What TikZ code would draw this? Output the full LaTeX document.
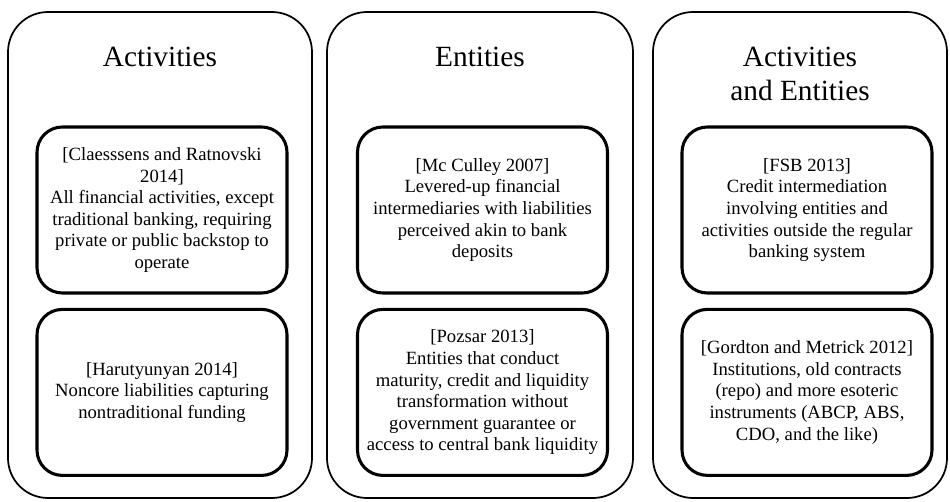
\documentclass[tikz,border=0pt]{standalone}
\usepackage{fontspec}
\setmainfont{Liberation Serif}
\usetikzlibrary{positioning}

\begin{document}
\begin{tikzpicture}[
  x=0.75pt, y=-0.75pt,
  node distance=10pt,
  column/.style={draw, rounded corners=30pt, line width=1.3pt, minimum height=364.5pt, inner sep=0pt},
  card/.style={draw, rounded corners=19pt, line width=2.3pt, align=center, minimum width=187.5pt, minimum height=124.5pt, inner sep=2pt, font=\fontsize{14}{16.2}\selectfont},
  heading/.style={anchor=north, align=center, font=\fontsize{22}{26}\selectfont}]
\useasboundingbox (0,0) rectangle (950,502);
% outer columns
\node[column, minimum width=228pt] (act) at (160,255) {};
\node[column, minimum width=229.5pt] (ent) at (480,255) {};
\node[column, minimum width=220.5pt] (both) at (800,255) {};
\node[heading] (actT) at (160,42) {Activities};
\node[heading] (entT) at (480,42) {Entities};
\node[heading] (bothT) at (800,42) {Activities\\and Entities};
% definitions
\node[card] (a1) at (162,210) {[Claesssens and Ratnovski\\2014]\\All financial activities, except\\traditional banking, requiring\\private or public backstop to\\operate};
\node[card, below=of a1] (a2) {[Harutyunyan 2014]\\Noncore liabilities capturing\\nontraditional funding};
\node[card] (e1) at (482.5,210) {[Mc Culley 2007]\\Levered-up financial\\intermediaries with liabilities\\perceived akin to bank\\deposits};
\node[card, below=of e1] (e2) {[Pozsar 2013]\\Entities that conduct\\maturity, credit and liquidity\\transformation without\\government guarantee or\\access to central bank liquidity};
\node[card] (b1) at (807,210) {[FSB 2013]\\Credit intermediation\\involving entities and\\activities outside the regular\\banking system};
\node[card, below=of b1] (b2) {[Gordton and Metrick 2012]\\Institutions, old contracts\\(repo) and more esoteric\\instruments (ABCP, ABS,\\CDO, and the like)};
\end{tikzpicture}
\end{document}
